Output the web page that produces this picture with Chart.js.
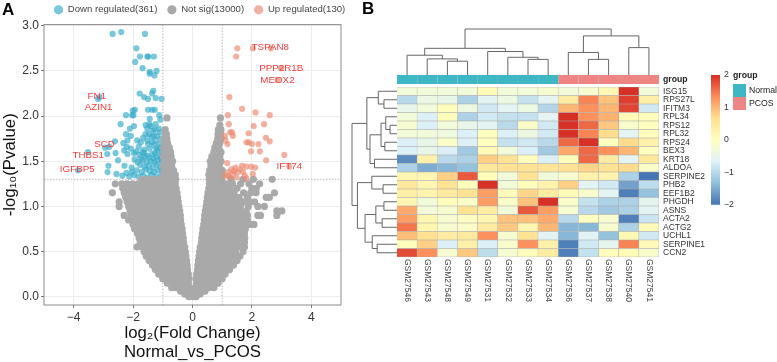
<!DOCTYPE html>
<html>
<head>
<meta charset="utf-8">
<title>Volcano plot and heatmap</title>
<script src="https://cdn.jsdelivr.net/npm/chart.js@4"></script>
<style>
  html, body { margin: 0; background: #fff; }
  body { width: 777px; height: 362px; position: relative; overflow: hidden; font-family: "Liberation Sans", Arial, sans-serif; }
  canvas { position: absolute; }
  .txt { position: absolute; line-height: 12px; white-space: nowrap; color: #222; }
  .panel { font-size: 17px; font-weight: bold; color: #000; line-height: 17px; }
  .swatch { position: absolute; width: 13px; height: 13px; }
</style>
</head>
<body>
<canvas id="volcano" width="345" height="362" style="left:0;top:0"></canvas>
<canvas id="heat" width="437" height="362" style="left:340px;top:0"></canvas>
<canvas id="groupBar" width="360" height="21" style="left:340px;top:69px"></canvas>
<canvas id="colorBar" width="60" height="160" style="left:700px;top:60px"></canvas>
<div class="txt panel" style="left:2px;top:1px">A</div>
<div class="txt panel" style="left:362px;top:0">B</div>
<div class="txt" style="left:733px;top:69px;font-size:8.7px;font-weight:bold">group</div>
<div class="swatch" style="left:733px;top:84px;background:#3db7c3"></div>
<div class="swatch" style="left:733px;top:97px;background:#ee8582"></div>
<div class="txt" style="left:749px;top:84px;font-size:8.7px">Normal</div>
<div class="txt" style="left:749px;top:97px;font-size:8.7px">PCOS</div>
<script>
// panel A: volcano
const xTicks = [-4, -2, 0, 2, 4];
const yTicks = [0, 0.5, 1, 1.5, 2, 2.5, 3];
const foldCuts = [-1, 1];
const pCut = [1.3];

const downPoints = [
  [-2.69,2.91],[-2.40,2.93],[-1.60,2.91],[-1.89,2.75],[-1.77,2.66],[-1.52,2.66],[-1.49,2.66],[-1.30,2.66],
  [-1.93,2.60],[-1.68,2.53],[-1.44,2.49],[-1.21,2.50],[-1.44,2.47],[-1.28,2.45],[-1.78,2.25],[-1.63,2.21],
  [-1.50,2.19],[-1.32,2.28],[-1.36,2.25],[-1.24,2.20],[-1.04,2.19],[-3.18,2.19],[-3.13,2.21],[-1.94,2.07],
  [-2.01,2.06],[-1.50,2.07],[-1.36,2.07],[-1.27,2.07],[-2.24,2.01],[-2.03,2.01],[-1.99,2.01],[-1.12,2.01],
  [-1.44,1.97],[-1.08,1.96],[-2.42,1.91],[-1.97,1.89],[-2.11,1.86],[-1.58,1.90],[-1.41,1.89],[-1.24,1.91],
  [-1.13,1.86],[-1.52,1.86],[-1.33,1.84],[-2.24,1.80],[-2.08,1.78],[-1.58,1.80],[-1.38,1.77],[-1.19,1.78],
  [-1.24,1.73],[-2.61,1.72],[-2.33,1.70],[-2.19,1.73],[-1.86,1.73],[-1.74,1.71],[-1.52,1.73],[-1.36,1.71],
  [-1.13,1.69],[-2.94,1.65],[-2.80,1.66],[-2.59,1.59],[-2.21,1.66],[-2.08,1.64],[-2.19,1.58],[-1.97,1.59],
  [-1.69,1.60],[-1.52,1.56],[-1.36,1.58],[-1.19,1.62],[-1.08,1.56],[-3.52,1.60],[-3.86,1.40],[-2.87,1.58],
  [-2.51,1.51],[-2.83,1.45],[-2.29,1.45],[-2.86,1.38],[-2.56,1.36],[-2.36,1.34],
  [-1.06,1.34],[-1.22,1.33],[-1.38,1.35],[-1.52,1.32],[-1.66,1.34],[-1.83,1.33],[-1.97,1.35],[-2.13,1.33],
  [-1.02,1.39],[-1.16,1.40],[-1.29,1.38],[-1.44,1.39],[-1.57,1.41],[-1.71,1.38],[-1.88,1.40],[-2.04,1.38],[-2.22,1.37],
  [-1.09,1.44],[-1.21,1.46],[-1.34,1.43],[-1.47,1.45],[-1.62,1.44],[-1.77,1.46],[-2.05,1.43],
  [-1.03,1.50],[-1.15,1.51],[-1.28,1.49],[-1.41,1.50],[-1.55,1.49],[-1.68,1.51],[-1.85,1.49],
  [-1.06,1.53],[-1.22,1.55],[-1.31,1.53],[-1.45,1.54],[-1.62,1.55],[-1.74,1.53],[-1.95,1.52],
  [-1.03,1.60],[-1.26,1.59],[-1.62,1.59],[-1.79,1.57],[-1.90,1.61],
  [-1.11,1.65],[-1.22,1.64],[-1.44,1.64],[-1.62,1.63],[-2.30,1.62],[-1.30,1.68],[-1.50,1.69],[-1.81,1.66],
  [-1.06,1.75],[-1.30,1.78],[-1.46,1.80],[-1.66,1.76],[-1.10,1.82],[-1.27,1.85],[-1.45,1.91]
];

const upPoints = [
  [1.51,2.75],[2.03,2.75],[2.64,2.75],[1.47,2.66],[2.98,2.53],[2.87,2.40],[1.24,2.21],[1.67,2.08],[2.12,2.04],
  [1.19,2.01],[2.60,2.01],[1.22,1.91],[2.06,1.89],[2.41,1.91],[1.27,1.82],[1.33,1.82],[1.36,1.78],[1.89,1.81],
  [1.09,1.78],[2.47,1.76],[2.60,1.72],[1.82,1.71],[1.89,1.71],[2.00,1.69],[2.22,1.69],[1.11,1.73],[1.18,1.69],
  [1.97,1.61],[2.27,1.61],[3.09,1.57],[2.48,1.51],[1.17,1.48],[3.26,1.44],[1.67,1.45],[1.81,1.44],[1.98,1.44],
  [2.11,1.43],[1.44,1.43],[1.31,1.41],[1.20,1.38],[1.09,1.34],[1.20,1.34],[1.37,1.36],[1.53,1.38],[1.70,1.38],
  [2.03,1.36],[1.76,1.34],[1.26,1.32],[1.48,1.32],[1.81,1.31],[1.60,1.41],[1.40,1.39]
];

// not sig points traced band by band from the cloud
const notSigLevels = [0, 0.03, 0.06, 0.10, 0.15, 0.20, 0.25, 0.30, 0.35, 0.40, 0.45, 0.50, 0.55, 0.60, 0.65, 0.70, 0.75, 0.80, 0.85, 0.90, 0.95, 1.00, 1.05, 1.10, 1.15, 1.20, 1.25, 1.30, 1.35, 1.40, 1.45, 1.50, 1.55, 1.60, 1.65, 1.70, 1.75, 1.80, 1.85, 1.90, 1.98];
const notSigX = [
  [-0.12,0,0.12],
  [-0.26,-0.13,0,0.13,0.26],
  [-0.40,-0.26,-0.12,0.02,0.15,0.28,0.42],
  [-0.70,-0.55,-0.40,-0.25,-0.10,0.10,0.25,0.40,0.55,0.72],
  [-0.85,-0.68,-0.50,-0.32,-0.14,0.14,0.32,0.50,0.68,0.86],
  [-1.00,-0.82,-0.64,-0.46,-0.28,-0.12,0.12,0.28,0.46,0.64,0.82,1.00],
  [-1.14,-0.96,-0.78,-0.60,-0.42,-0.26,-0.14,0.14,0.26,0.42,0.60,0.78,0.96,1.10],
  [-1.25,-1.07,-0.89,-0.71,-0.53,-0.35,-0.17,0.17,0.35,0.53,0.71,0.89,1.07,1.25],
  [-1.35,-1.17,-0.99,-0.81,-0.63,-0.45,-0.27,-0.18,0.18,0.27,0.45,0.63,0.81,0.99,1.17,1.38],
  [-1.46,-1.28,-1.10,-0.92,-0.74,-0.56,-0.38,-0.20,0.20,0.38,0.56,0.74,0.92,1.10,1.28,1.50],
  [-1.56,-1.38,-1.20,-1.02,-0.84,-0.66,-0.48,-0.30,-0.22,0.22,0.30,0.48,0.66,0.84,1.02,1.20,1.38,1.60],
  [-1.63,-1.45,-1.27,-1.09,-0.91,-0.73,-0.55,-0.38,-0.24,0.24,0.38,0.55,0.73,0.91,1.09,1.27,1.45,1.70],
  [-1.87,-1.70,-1.52,-1.34,-1.16,-0.98,-0.80,-0.62,-0.44,-0.26,0.26,0.44,0.62,0.80,0.98,1.16,1.34,1.52,1.75],
  [-1.76,-1.58,-1.40,-1.22,-1.04,-0.86,-0.68,-0.50,-0.30,0.30,0.50,0.68,0.86,1.04,1.22,1.40,1.58,1.75],
  [-1.80,-1.62,-1.44,-1.26,-1.08,-0.90,-0.72,-0.54,-0.36,-0.31,0.31,0.36,0.54,0.72,0.90,1.08,1.26,1.44,1.62,1.76],
  [-1.85,-1.67,-1.49,-1.31,-1.13,-0.95,-0.77,-0.59,-0.41,-0.33,0.33,0.41,0.59,0.77,0.95,1.13,1.31,1.49,1.67,1.75],
  [-1.95,-1.77,-1.59,-1.41,-1.23,-1.05,-0.87,-0.69,-0.51,-0.35,0.35,0.51,0.69,0.87,1.05,1.23,1.41,1.59,1.78],
  [-2.00,-1.82,-1.64,-1.46,-1.28,-1.10,-0.92,-0.74,-0.56,-0.38,0.38,0.56,0.74,0.92,1.10,1.28,1.46,1.64,1.85,2.07,1.98],
  [-2.15,-2.05,-1.87,-1.69,-1.51,-1.33,-1.15,-0.97,-0.79,-0.61,-0.43,-0.40,0.40,0.43,0.61,0.79,0.97,1.15,1.33,1.51,1.69,1.85],
  [-2.30,-2.06,-1.90,-1.72,-1.54,-1.36,-1.18,-1.00,-0.82,-0.64,-0.46,-0.41,0.41,0.46,0.64,0.82,1.00,1.18,1.36,1.54,1.72,1.85,2.29,2.20,2.84],
  [-2.10,-1.94,-1.76,-1.58,-1.40,-1.22,-1.04,-0.86,-0.68,-0.50,-0.43,0.43,0.50,0.68,0.86,1.04,1.22,1.40,1.58,1.81,2.84,3.01],
  [-2.47,-2.15,-1.97,-1.79,-1.61,-1.43,-1.25,-1.07,-0.89,-0.71,-0.53,-0.46,0.46,0.53,0.71,0.89,1.07,1.25,1.43,1.61,1.88,2.20,2.42],
  [-2.47,-2.20,-2.02,-1.84,-1.66,-1.48,-1.30,-1.12,-0.94,-0.76,-0.58,-0.48,0.48,0.58,0.76,0.94,1.12,1.30,1.48,1.70,1.92,2.09],
  [-2.25,-2.07,-1.89,-1.71,-1.53,-1.35,-1.17,-0.99,-0.81,-0.63,-0.50,0.50,0.63,0.81,0.99,1.17,1.35,1.56,1.85,2.48,2.59],
  [-2.70,-2.30,-2.12,-1.94,-1.76,-1.58,-1.40,-1.22,-1.04,-0.86,-0.68,-0.52,0.52,0.68,0.86,1.04,1.22,1.40,1.72,1.96,2.14,2.76],
  [-2.35,-2.17,-1.99,-1.81,-1.63,-1.45,-1.27,-1.09,-0.91,-0.73,-0.55,0.55,0.73,0.91,1.09,1.27,1.50,2.00,2.15],
  [-2.60,-2.38,-2.20,-2.02,-1.84,-1.66,-1.48,-1.30,-1.12,-0.94,-0.76,-0.58,0.57,0.76,0.94,1.12,1.35,1.62,1.90,2.26],
  [-1.70,-1.52,-1.34,-1.16,-1.00,-0.82,-0.64,-0.57,0.56,0.64,0.82,0.98,1.30,1.70,2.05,2.68],
  [-0.98,-0.82,-0.68,-0.58,0.55,0.68,0.82,0.98],
  [-0.96,-0.80,-0.64,0.58,0.72,0.86,1.00],
  [-0.98,-0.84,-0.70,0.62,0.76,0.90],
  [-0.95,-0.81,-0.67,0.60,0.72,0.84,0.96],
  [-0.98,-0.84,-0.72,0.65,0.78,0.92],
  [-0.95,-0.82,-0.74,0.72,0.84,0.96],
  [-0.97,-0.85,-0.78,0.75,0.88],
  [-0.94,-0.84,0.80,0.92],
  [-0.96,-0.86,0.85,0.96],
  [-0.91,-0.88,0.86,0.94],
  [-0.92,0.87,0.96],
  [0.92],
  [-0.86,0.94]
];

const noteLabels = ['FN1', 'AZIN1', 'SCD', 'THBS1', 'IGFBP5', 'TSPAN8', 'PPP2R1B', 'MEOX2', 'IFT74'];
const noteX = [-3.22, -3.16, -2.96, -3.51, -3.88, 2.62, 2.99, 2.86, 3.26];
const noteY = [2.22, 2.10, 1.69, 1.57, 1.41, 2.76, 2.53, 2.40, 1.44];

const toXY = p => ({ x: p[0], y: p[1] });
const notSigPoints = [];
notSigLevels.forEach((y, i) => notSigX[i].forEach(x => notSigPoints.push({ x, y })));

const volcanoMarks = {
  id: 'volcanoMarks',
  afterLayout(chart) {
    // legend starts over the plot, with room so the last item does not wrap
    chart.legend.left = 44;
    chart.legend.right += 20;
  },
  afterDatasetsDraw(chart) {
    const { ctx, chartArea: a, scales: { x, y } } = chart;
    ctx.save();
    ctx.strokeStyle = '#a8a8a8';
    ctx.lineWidth = 0.8;
    ctx.setLineDash([1.5, 1.5]);
    foldCuts.forEach(v => {
      ctx.beginPath();
      ctx.moveTo(x.getPixelForValue(v), a.top);
      ctx.lineTo(x.getPixelForValue(v), a.bottom);
      ctx.stroke();
    });
    pCut.forEach(v => {
      ctx.beginPath();
      ctx.moveTo(a.left, y.getPixelForValue(v));
      ctx.lineTo(a.right, y.getPixelForValue(v));
      ctx.stroke();
    });
    ctx.setLineDash([]);
    ctx.strokeStyle = '#8c8c8c';
    ctx.lineWidth = 1;
    ctx.strokeRect(a.left, a.top, a.right - a.left, a.bottom - a.top);
    ctx.fillStyle = 'rgb(245,60,60)';
    ctx.font = '9.8px "Liberation Sans"';
    ctx.textAlign = 'center';
    ctx.textBaseline = 'middle';
    noteLabels.forEach((t, i) => ctx.fillText(t, x.getPixelForValue(noteX[i]), y.getPixelForValue(noteY[i])));
    ctx.restore();
  }
};

new Chart(document.getElementById('volcano'), {
  type: 'scatter',
  data: {
    datasets: [
      { label: 'Down regulated(361)', data: downPoints.map(toXY), backgroundColor: 'rgba(58,172,202,0.68)', order: 2 },
      { label: 'Not sig(13000)', data: notSigPoints, backgroundColor: 'rgba(169,169,169,1)', radius: 3.6, order: 1 },
      { label: 'Up regulated(130)', data: upPoints.map(toXY), backgroundColor: 'rgba(236,140,115,0.68)', order: 0 }
    ]
  },
  plugins: [volcanoMarks],
  options: {
    responsive: false,
    animation: false,
    layout: { padding: { top: -5, right: 1 } },
    elements: { point: { radius: 3.1, borderWidth: 0 } },
    plugins: {
      tooltip: { enabled: false },
      legend: {
        position: 'top',
        align: 'start',
        labels: {
          usePointStyle: true, pointStyle: 'circle', boxWidth: 9, boxHeight: 6.5, padding: 10, color: '#444',
          font: { size: 9.6, family: '"Liberation Sans"' },
          sort: (a, b) => a.datasetIndex - b.datasetIndex
        }
      }
    },
    scales: {
      x: {
        type: 'linear', min: -5, max: 5,
        afterBuildTicks: s => { s.ticks = xTicks.map(value => ({ value })); },
        afterFit: s => { s.height = 57; },
        grid: { color: '#ececec', tickColor: '#777', tickLength: 3 },
        border: { display: false },
        ticks: {
          color: '#333', padding: 2, maxRotation: 0,
          font: { size: 12, family: '"Liberation Sans"' },
          callback: v => String(v).replace('-', '\u2212')
        },
        title: {
          display: true, text: ['log\u2082(Fold Change)', 'Normal_vs_PCOS'], color: '#111',
          font: { size: 16.8, family: '"Liberation Sans"', lineHeight: 1.13 }, padding: { top: 2, bottom: 0 }
        }
      },
      y: {
        min: -0.092, max: 3.013,
        afterBuildTicks: s => { s.ticks = yTicks.map(value => ({ value })); },
        afterFit: s => { s.width = 44; },
        grid: { color: '#ececec', tickColor: '#777', tickLength: 3 },
        border: { display: false },
        ticks: {
          color: '#333', padding: 2,
          font: { size: 12, family: '"Liberation Sans"' },
          callback: v => v.toFixed(1)
        },
        title: {
          display: true, text: '-log\u2081\u2080(Pvalue)', color: '#111',
          font: { size: 16.8, family: '"Liberation Sans"' }, padding: { top: 0, bottom: 0 }
        }
      }
    }
  }
});

// panel B: heatmap
const samples = ['GSM27546', 'GSM27543', 'GSM27548', 'GSM27549', 'GSM27531', 'GSM27532', 'GSM27533', 'GSM27534', 'GSM27536', 'GSM27537', 'GSM27538', 'GSM27540', 'GSM27541'];
const genes = ['ISG15', 'RPS27L', 'IFITM3', 'RPL34', 'RPS12', 'RPL32', 'RPS24', 'BEX3', 'KRT18', 'ALDOA', 'SERPINE2', 'PHB2', 'EEF1B2', 'PHGDH', 'ASNS', 'ACTA2', 'ACTG2', 'UCHL1', 'SERPINE1', 'CCN2'];
const sampleGroup = ['Normal', 'Normal', 'Normal', 'Normal', 'Normal', 'Normal', 'Normal', 'Normal', 'PCOS', 'PCOS', 'PCOS', 'PCOS', 'PCOS'];
const heatValues = [
  [-0.3,-0.3,-0.3,-0.3,0.1,-0.3,-0.3,-0.2,-0.3,-0.2,0.15,2.0,-0.3],
  [-1.0,-0.4,-0.5,-1.1,-0.6,-0.4,-0.9,-0.6,0.4,1.4,0.9,1.9,0.35],
  [-0.5,-0.3,0.05,-0.4,-0.8,-0.6,-0.4,-1.05,1.0,1.3,1.0,1.85,-0.8],
  [-0.3,-0.7,0.05,-1.1,-0.8,-0.9,-0.9,-0.6,2.0,1.3,1.05,0.1,0.05],
  [-0.2,-0.7,-0.3,-0.5,-0.6,-1.0,-0.1,-0.8,2.0,1.6,0.85,-0.15,0.0],
  [-0.3,-0.3,-0.35,-0.7,0.0,-0.7,-0.4,-0.8,2.0,1.4,0.7,-0.6,0.05],
  [-0.7,-0.5,-0.1,-0.7,0.0,-0.9,-0.8,-1.0,1.6,2.0,0.0,0.7,0.3],
  [-0.7,-0.5,-0.7,-1.2,0.1,-0.3,-0.7,-1.2,1.1,1.6,1.3,1.0,0.0],
  [-1.8,0.3,-1.0,-1.1,0.8,0.6,0.05,-0.7,0.05,1.6,0.4,-0.6,0.5],
  [-1.1,-1.5,-1.4,-1.3,0.5,0.6,0.6,0.55,0.6,0.75,0.6,0.7,-0.1],
  [0.2,0.2,0.8,1.7,0.05,-0.3,0.6,-0.3,-0.2,0.3,0.25,-1.1,-2.0],
  [0.5,0.2,0.6,0.05,2.0,-0.3,0.05,0.25,0.8,-0.6,-0.8,-1.6,-0.95],
  [0.35,0.25,0.45,0.6,1.2,0.05,0.75,0.4,0.1,-0.15,-0.6,-1.9,-1.3],
  [0.2,-0.3,0.05,-0.1,1.2,-0.1,0.9,2.0,-0.1,-0.9,-1.1,-1.1,-0.55],
  [1.1,-0.3,-0.2,0.6,0.4,-0.3,1.7,1.2,-0.2,-1.0,-1.2,-1.1,-0.6],
  [1.2,0.2,-0.2,-0.05,0.2,0.9,0.9,1.1,-1.0,0.0,-0.2,-1.9,-0.85],
  [1.5,0.2,-0.2,-0.1,0.4,0.85,0.2,1.0,-1.4,-1.4,-0.2,-1.1,0.1],
  [0.95,0.65,0.4,0.45,1.3,-0.2,0.6,-0.6,-1.4,-0.65,-1.3,0.15,-0.8],
  [0.05,0.8,-0.7,0.3,-0.7,-0.15,1.3,0.3,-1.9,-0.8,-0.55,1.4,0.1],
  [1.8,1.3,-0.2,0.85,-0.95,-0.2,0.05,0.4,-1.9,-0.9,0.05,0.1,-0.15]
];
// dendrograms as nested [left, right, height], leaves are row/column indexes
const colTree = [[[0,[1,[2,3,0.30],0.35],0.43],[4,[5,[6,7,0.34],0.385],0.51],0.58],[[8,[9,10,0.34],0.49],[11,12,0.595],0.85],1];
const rowTree = [[[0,[1,2,0.29],0.415],[[[3,[4,5,0.155],0.25],[6,7,0.27],0.355],[8,9,0.5],0.6],0.67],[[10,[11,12,0.31],0.56],[[[13,14,0.29],[15,16,0.33],0.47],[17,[18,19,0.44],0.55],0.71],0.88],1];
const colorTicks = [2, 1, 0, -1, -2];

const palette = [[69,117,180],[145,191,219],[224,243,248],[255,255,191],[254,224,144],[252,141,89],[215,48,39]];
function heatColor(v) {
  const t = Math.min(Math.max((v + 2) / 4, 0), 1) * (palette.length - 1);
  const i = Math.min(Math.floor(t), palette.length - 2);
  const f = t - i;
  const c = palette[i].map((p, k) => Math.round(p + (palette[i + 1][k] - p) * f));
  return 'rgb(' + c.join(',') + ')';
}
const groupColor = { Normal: '#3db7c3', PCOS: '#ee8582' };

function drawTree(node, leafPos, heightPos, seg) {
  if (typeof node === 'number') return { c: leafPos(node), h: heightPos(0) };
  const a = drawTree(node[0], leafPos, heightPos, seg);
  const b = drawTree(node[1], leafPos, heightPos, seg);
  const h = heightPos(node[2]);
  seg(a.c, a.h, a.c, h);
  seg(b.c, b.h, b.c, h);
  seg(a.c, h, b.c, h);
  return { c: (a.c + b.c) / 2, h };
}

const dendrograms = {
  id: 'dendrograms',
  afterDraw(chart) {
    const { ctx, chartArea: a, scales: { x, y } } = chart;
    ctx.save();
    ctx.strokeStyle = '#666';
    ctx.lineWidth = 1;
    ctx.beginPath();
    drawTree(colTree, i => x.getPixelForValue(i + 0.5), h => 75 - h * 46, (c1, h1, c2, h2) => {
      ctx.moveTo(c1, h1); ctx.lineTo(c2, h2);
    });
    drawTree(rowTree, i => y.getPixelForValue(i), h => a.left - h * 45, (c1, h1, c2, h2) => {
      ctx.moveTo(h1, c1); ctx.lineTo(h2, c2);
    });
    ctx.stroke();
    ctx.restore();
  }
};

new Chart(document.getElementById('heat'), {
  type: 'bar',
  data: {
    labels: genes,
    datasets: samples.map((s, c) => ({
      label: s,
      data: genes.map(() => 1),
      backgroundColor: genes.map((g, r) => heatColor(heatValues[r][c])),
      borderColor: '#a8a8a8',
      borderWidth: 0.6,
      barPercentage: 1,
      categoryPercentage: 1
    }))
  },
  plugins: [dendrograms],
  options: {
    indexAxis: 'y',
    responsive: false,
    animation: false,
    layout: { padding: { left: 57, top: 87 } },
    plugins: { legend: { display: false }, tooltip: { enabled: false } },
    scales: {
      x: {
        stacked: true, min: 0, max: 13,
        afterBuildTicks: s => { s.ticks = samples.map((n, i) => ({ value: i + 0.5 })); },
        afterFit: s => { s.height = 105; },
        grid: { display: false }, border: { display: false },
        ticks: {
          autoSkip: false, minRotation: -90, maxRotation: -90, padding: 37, color: '#444',
          font: { size: 8.5, family: '"Liberation Sans"' },
          callback: v => samples[v - 0.5]
        }
      },
      y: {
        stacked: true, position: 'right',
        afterFit: s => { s.width = 118; },
        grid: { display: false, tickLength: 0 }, border: { display: false },
        ticks: { autoSkip: false, padding: 4, color: '#333', font: { size: 8.5, family: '"Liberation Sans"' } }
      }
    }
  }
});

new Chart(document.getElementById('groupBar'), {
  type: 'bar',
  data: {
    labels: ['group'],
    datasets: samples.map((s, c) => ({
      label: s,
      data: [1],
      backgroundColor: groupColor[sampleGroup[c]],
      borderColor: '#9fb4b6',
      borderWidth: 0.4,
      barThickness: 9,
      clip: false
    }))
  },
  options: {
    indexAxis: 'y',
    responsive: false,
    animation: false,
    layout: { autoPadding: false, padding: { left: 57, top: 6, bottom: 6 } },
    plugins: { legend: { display: false }, tooltip: { enabled: false } },
    scales: {
      x: { stacked: true, min: 0, max: 13, display: false },
      y: {
        stacked: true, position: 'right',
        afterFit: s => { s.width = 41; },
        grid: { display: false, tickLength: 0 }, border: { display: false },
        ticks: { padding: 4, color: '#222', font: { size: 8.7, weight: 'bold', family: '"Liberation Sans"' } }
      }
    }
  }
});

new Chart(document.getElementById('colorBar'), {
  type: 'bar',
  data: {
    labels: ['scale'],
    datasets: [{
      data: [[-2, 2]],
      barPercentage: 1,
      categoryPercentage: 1,
      backgroundColor(ctx) {
        const a = ctx.chart.chartArea;
        if (!a) return '#ffffbf';
        const g = ctx.chart.ctx.createLinearGradient(0, a.bottom, 0, a.top);
        palette.forEach((c, i) => g.addColorStop(i / (palette.length - 1), 'rgb(' + c.join(',') + ')'));
        return g;
      }
    }]
  },
  options: {
    responsive: false,
    animation: false,
    layout: { autoPadding: false, padding: { left: 11, top: 15, bottom: 15.3 } },
    plugins: { legend: { display: false }, tooltip: { enabled: false } },
    scales: {
      x: { display: false },
      y: {
        position: 'right', min: -2, max: 2,
        afterBuildTicks: s => { s.ticks = colorTicks.map(value => ({ value })); },
        afterFit: s => { s.width = 40; },
        grid: { display: false, tickLength: 0 }, border: { display: false },
        ticks: {
          padding: 4, color: '#333', font: { size: 8.7, family: '"Liberation Sans"' },
          callback: v => String(v).replace('-', '\u2212')
        }
      }
    }
  }
});
</script>
</body>
</html>
